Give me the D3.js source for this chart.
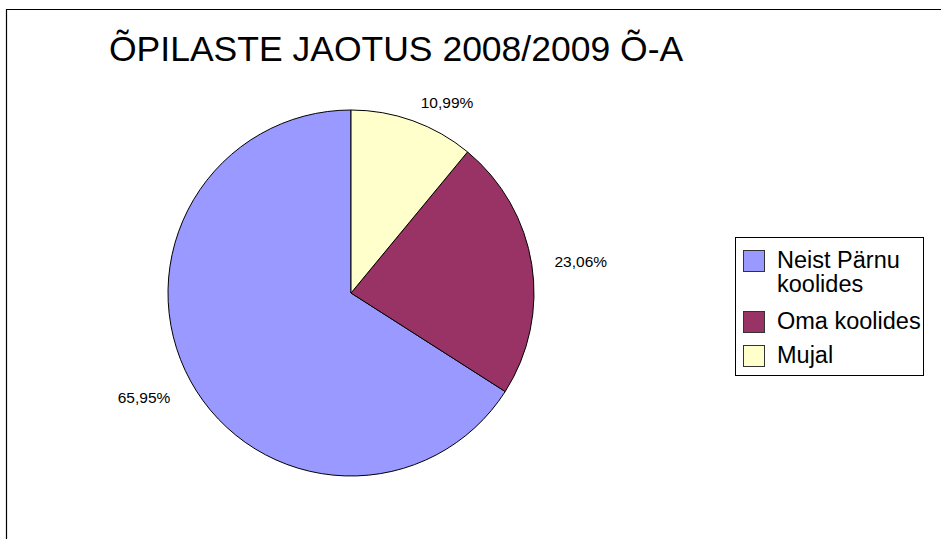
<!DOCTYPE html>
<html>
<head>
<meta charset="utf-8">
<script src="https://cdn.jsdelivr.net/npm/d3@7"></script>
<style>
  html, body { margin: 0; padding: 0; background: #fff; }
  svg { display: block; font-family: "Liberation Sans", Arial, sans-serif; }
</style>
</head>
<body>
<svg id="chart" width="941" height="539"></svg>
<script>
const title = "ÕPILASTE JAOTUS 2008/2009 Õ-A";
const categories = ["Neist Pärnu koolides", "Oma koolides", "Mujal"];
const legendLines = [["Neist Pärnu", "koolides"], ["Oma koolides"], ["Mujal"]];
const values = [65.95, 23.06, 10.99];
const labels = ["65,95%", "23,06%", "10,99%"];
const colors = ["#9999ff", "#993366", "#ffffcc"];

const svg = d3.select("#chart");
const W = 941, H = 539;

// frame (left and top edge visible)
svg.append("path")
  .attr("d", `M6.5,${H} L6.5,9.5 L${W},9.5`)
  .attr("fill", "none").attr("stroke", "#000").attr("stroke-width", 1.2);

// title
svg.append("text")
  .attr("x", 109).attr("y", 61)
  .attr("font-size", 35.5)
  .attr("fill", "#000")
  .text(title);

// pie: first slice drawn counter-clockwise from 12 o'clock
const cx = 351, cy = 293, R = 183;
const pie = d3.pie().sort(null).value(d => d)
  .startAngle(0).endAngle(-2 * Math.PI);
const arcs = pie(values);
const arc = d3.arc().innerRadius(0).outerRadius(R);
const g = svg.append("g").attr("transform", `translate(${cx},${cy})`);

g.selectAll("path.slice").data(arcs).enter().append("path")
  .attr("class", "slice")
  .attr("d", arc)
  .attr("fill", (d, i) => colors[i])
  .attr("stroke", "#000")
  .attr("stroke-width", 1)
  .attr("stroke-linejoin", "round");

// labels
const labelR = 206;
g.selectAll("text.lbl").data(arcs).enter().append("text")
  .attr("class", "lbl")
  .each(function(d, i) {
    const a = (d.startAngle + d.endAngle) / 2;
    const s = Math.sin(a), c = Math.cos(a);
    const x = s * labelR, y = -c * labelR;
    d3.select(this)
      .attr("x", x).attr("y", y)
      .attr("dy", Math.abs(c) < 0.3 ? "0.38em" : (c > 0.5 ? "0.6em" : "0.72em"))
      .attr("text-anchor", s > 0.1 ? "start" : (s < -0.1 ? "end" : "middle"))
      .attr("font-size", 15.5)
      .attr("fill", "#000")
      .text(labels[i]);
  });

// legend
const lg = svg.append("g");
lg.append("rect")
  .attr("x", 735.5).attr("y", 237.5).attr("width", 188).attr("height", 138)
  .attr("fill", "#fff").attr("stroke", "#000").attr("stroke-width", 1);

const rowY = d3.scaleOrdinal().domain(categories).range([250, 311, 345]);
categories.forEach((cat, i) => {
  const y0 = rowY(cat);
  lg.append("rect")
    .attr("x", 743.5).attr("y", y0 + 0.5).attr("width", 21).attr("height", 21)
    .attr("fill", colors[i]).attr("stroke", "#333").attr("stroke-width", 1);
  const t = lg.append("text")
    .attr("x", 777).attr("y", y0 + 18)
    .attr("font-size", 23.5).attr("fill", "#000");
  legendLines[i].forEach((line, j) => {
    t.append("tspan").attr("x", 777).attr("dy", j === 0 ? 0 : 23.5).text(line);
  });
});
</script>
</body>
</html>
